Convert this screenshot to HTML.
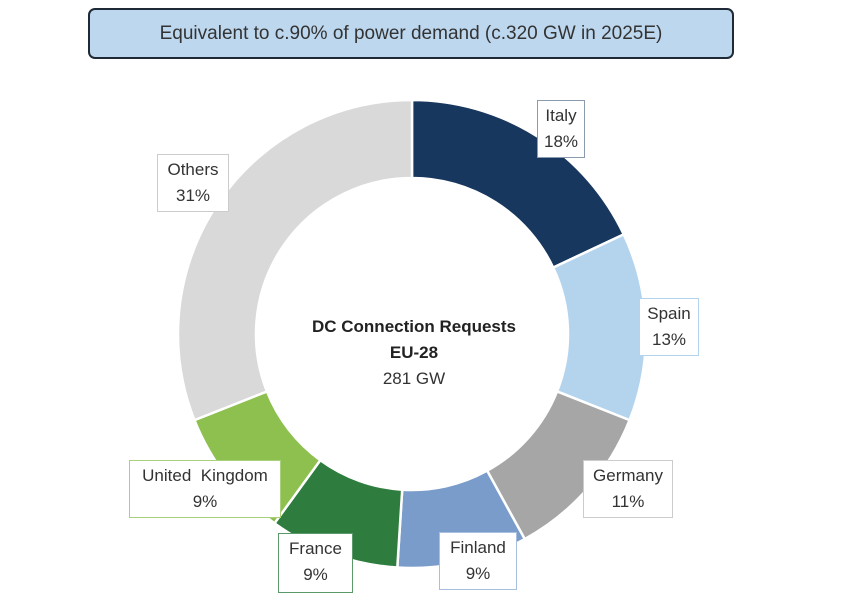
<!DOCTYPE html>
<html><head><style>
html,body{margin:0;padding:0;background:#fff;}
body{width:856px;height:614px;position:relative;overflow:hidden;font-family:"Liberation Sans",sans-serif;}
.t{position:absolute;left:88px;top:8px;width:642px;height:47px;background:#bdd7ee;border:2px solid #1f2a36;border-radius:7px;text-align:center;line-height:47px;font-size:19px;color:#333;}
.lb{position:absolute;background:#fff;text-align:center;font-size:17px;line-height:26px;color:#333;box-sizing:border-box;padding-top:2px;}
</style></head><body>
<div class="t">Equivalent to c.90% of power demand (c.320 GW in 2025E)</div>
<svg width="856" height="614" style="position:absolute;left:0;top:0">
<g stroke="#fff" stroke-width="2.5" id="d"></g>
<text x="414" y="332" text-anchor="middle" font-family="Liberation Sans, sans-serif" font-size="17" font-weight="bold" fill="#222">DC Connection Requests</text>
<text x="414" y="358" text-anchor="middle" font-family="Liberation Sans, sans-serif" font-size="17" font-weight="bold" fill="#222">EU-28</text>
<text x="414" y="384" text-anchor="middle" font-family="Liberation Sans, sans-serif" font-size="17" fill="#333">281 GW</text>
</svg>
<div class="lb" style="left:537px;top:100px;width:48px;height:58px;border:1px solid #8a9bb0">Italy<br>18%</div>
<div class="lb" style="left:157px;top:154px;width:72px;height:58px;border:1px solid #ccc">Others<br>31%</div>
<div class="lb" style="left:639px;top:298px;width:60px;height:58px;border:1px solid #b4d4ee">Spain<br>13%</div>
<div class="lb" style="left:583px;top:460px;width:90px;height:58px;border:1px solid #ccc">Germany<br>11%</div>
<div class="lb" style="left:439px;top:532px;width:78px;height:58px;border:1px solid #a9bfe0">Finland<br>9%</div>
<div class="lb" style="left:278px;top:533px;width:75px;height:60px;border:1px solid #5a9a6a">France<br>9%</div>
<div class="lb" style="left:129px;top:460px;width:152px;height:58px;border:1px solid #a9d07a">United&nbsp; Kingdom<br>9%</div>
<script>
var cx=412,cy=334,R=234,r=156;
var d=[[18,"#17375e"],[13,"#b4d4ee"],[11,"#a6a6a6"],[9,"#7a9ccb"],[9,"#2e7d3e"],[9,"#8dc04f"],[31,"#d9d9d9"]];
var g=document.getElementById("d"),a=0,s="";
function p(rr,t){return (cx+rr*Math.sin(t)).toFixed(2)+","+(cy-rr*Math.cos(t)).toFixed(2);}
d.forEach(function(e){var a0=a/100*2*Math.PI;a+=e[0];var a1=a/100*2*Math.PI;var l=e[0]>50?1:0;
s+='<path fill="'+e[1]+'" d="M'+p(R,a0)+' A'+R+','+R+' 0 '+l+' 1 '+p(R,a1)+' L'+p(r,a1)+' A'+r+','+r+' 0 '+l+' 0 '+p(r,a0)+' Z"/>';});
g.innerHTML=s;
</script>
</body></html>
